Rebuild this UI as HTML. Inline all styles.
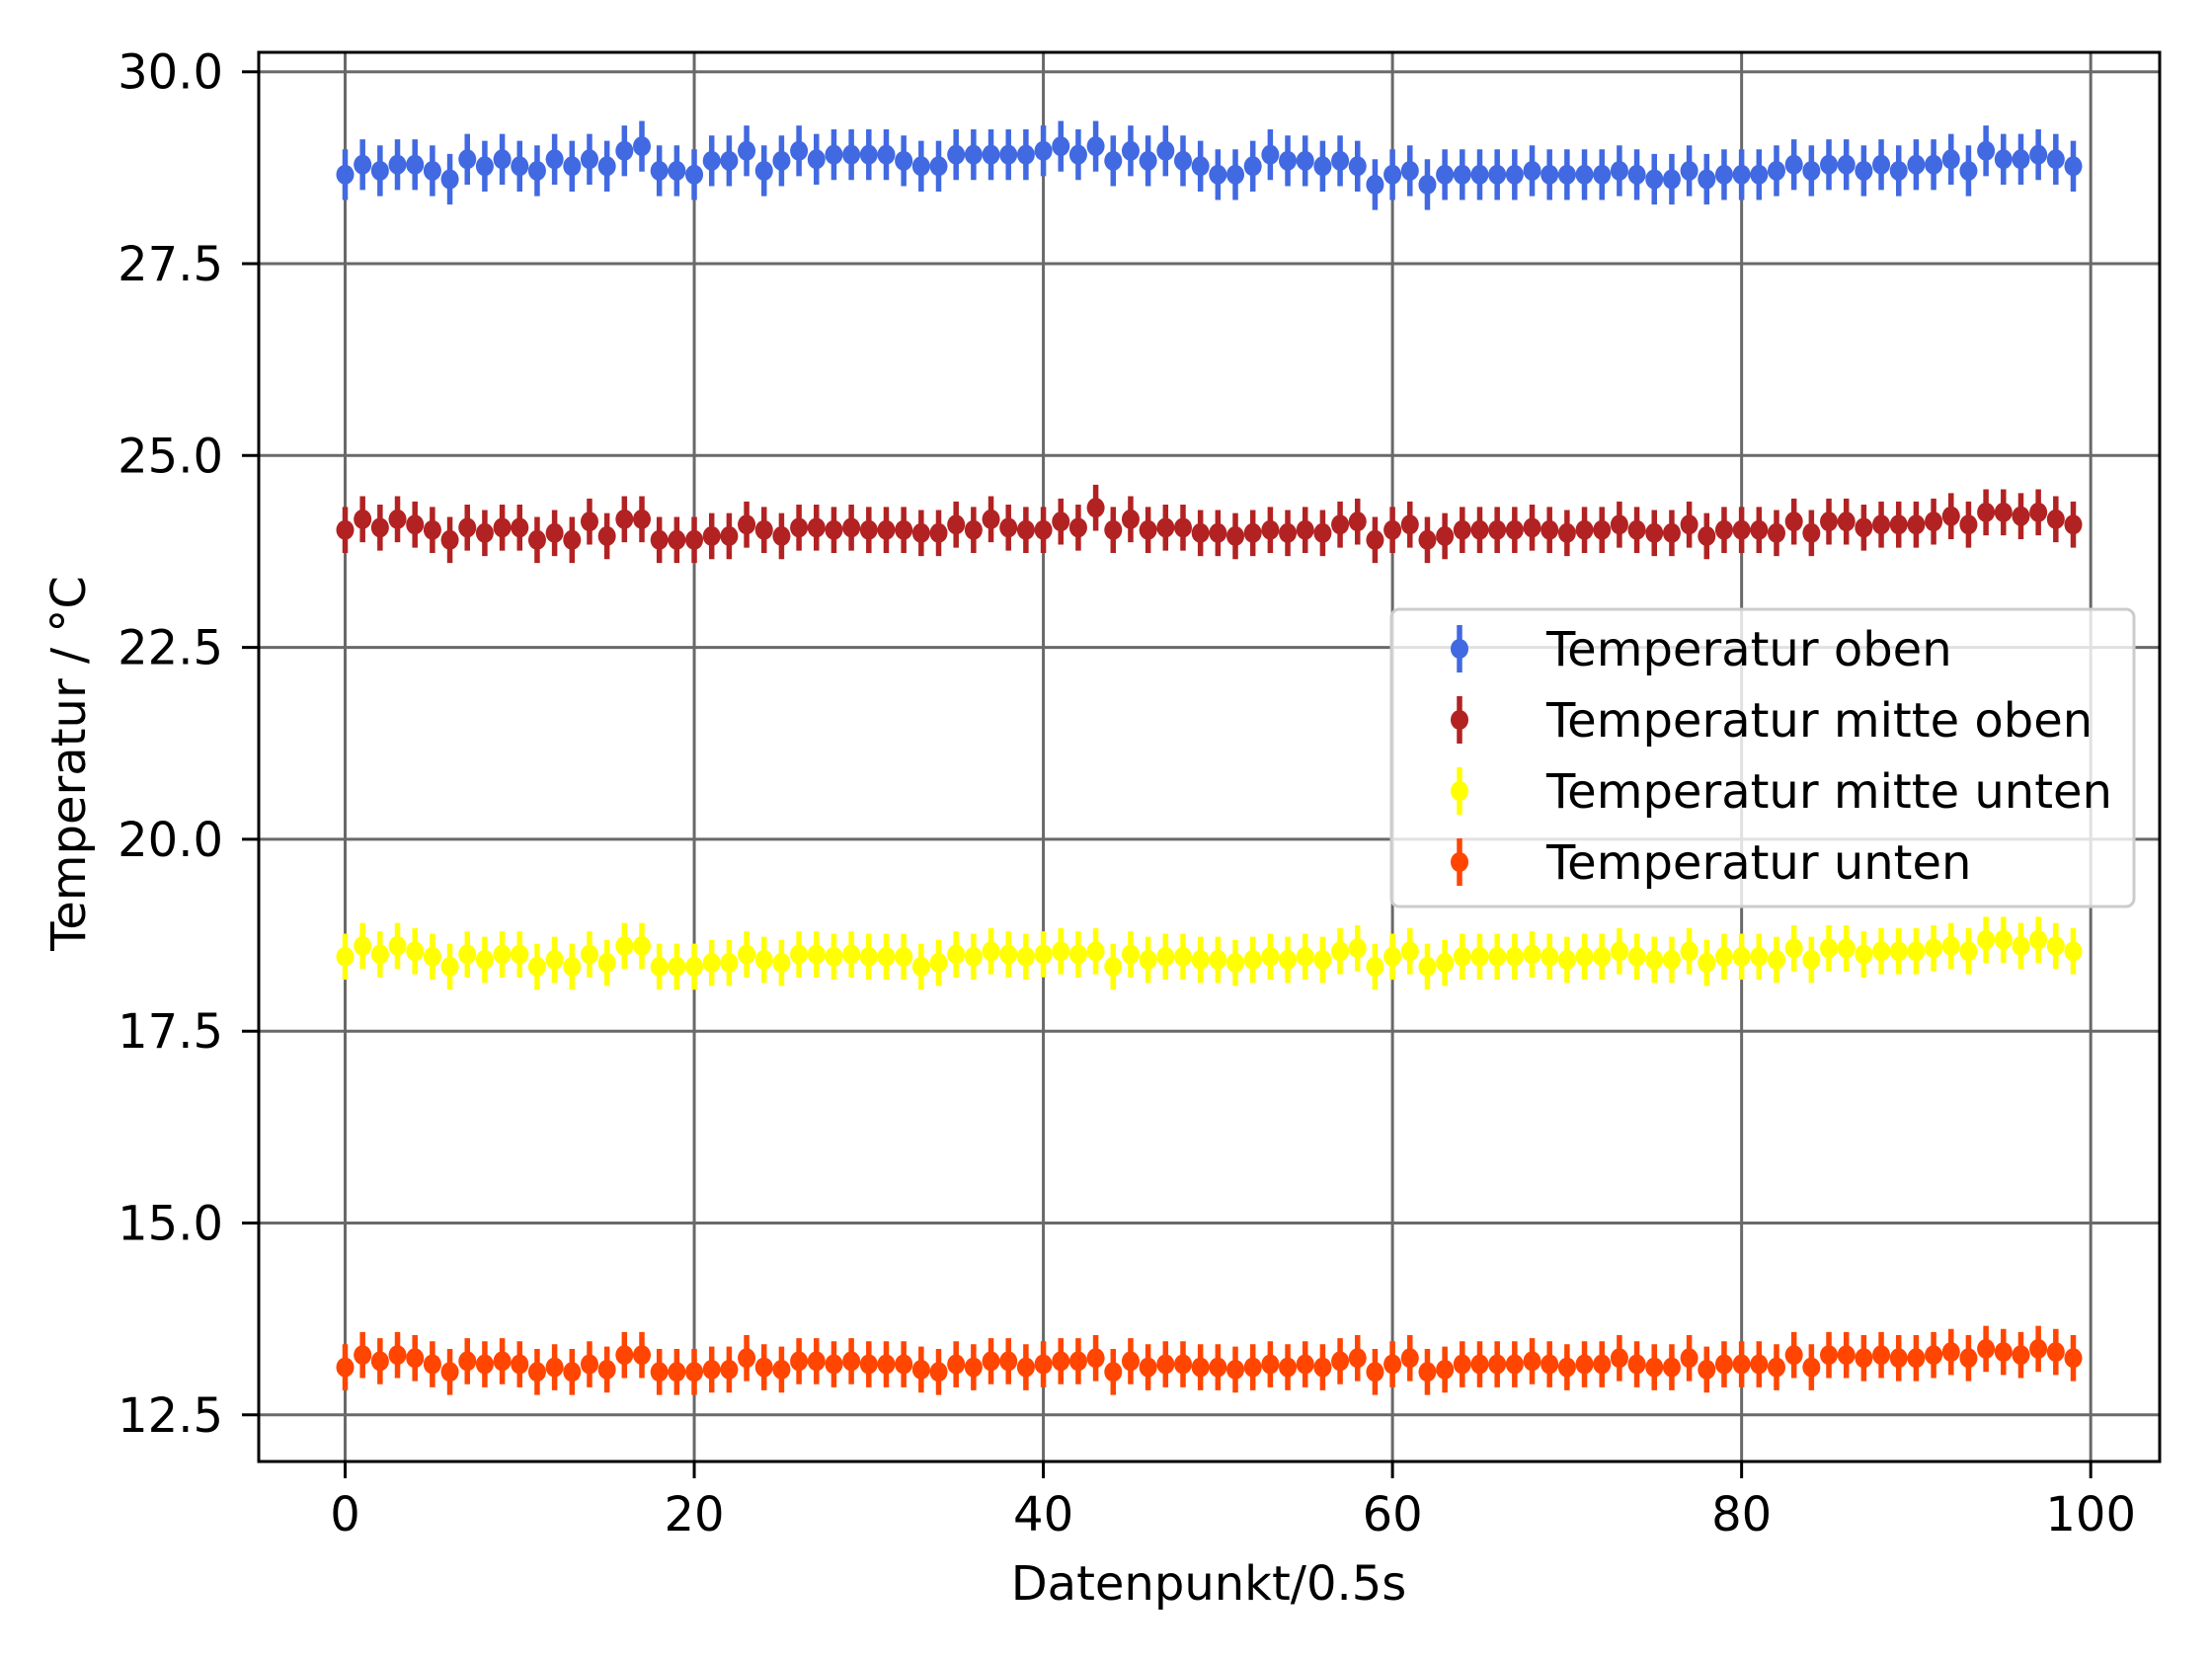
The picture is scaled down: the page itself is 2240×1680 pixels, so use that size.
<!DOCTYPE html>
<html><head><meta charset="utf-8"><style>
html,body{margin:0;padding:0;background:#fff}
svg{display:block;font-family:"DejaVu Sans","Liberation Sans",sans-serif}
</style></head><body>
<svg id="chart" width="2240" height="1680" viewBox="0 0 2240 1680">
<rect x="0" y="0" width="2240" height="1680" fill="#fff"/>
<g id="grid"></g>
<g id="series"></g>
<rect x="262" y="53" width="1925" height="1427" fill="none" stroke="#000" stroke-width="3"/>
<g id="ticks"></g>
<text x="1224" y="1620" text-anchor="middle" font-size="48">Datenpunkt/0.5s</text>
<text x="86" y="773" text-anchor="middle" font-size="48" transform="rotate(-90 86 773)">Temperatur / °C</text>
<g id="legend"></g>
</svg>
<script>
const xTicks=[0,20,40,60,80,100];
const yTicks=[12.5,15.0,17.5,20.0,22.5,25.0,27.5,30.0];
const seriesNames=["Temperatur oben","Temperatur mitte oben","Temperatur mitte unten","Temperatur unten"];
const seriesColors=["#4169e1","#b22222","#ffff00","#ff4500"];
const oben=[28.66,28.79,28.71,28.79,28.79,28.71,28.60,28.86,28.77,28.86,28.77,28.71,28.86,28.77,28.86,28.77,28.97,29.03,28.71,28.71,28.66,28.84,28.84,28.97,28.71,28.84,28.97,28.86,28.92,28.92,28.92,28.92,28.84,28.77,28.77,28.92,28.92,28.92,28.92,28.92,28.97,29.03,28.92,29.03,28.84,28.97,28.84,28.97,28.84,28.77,28.66,28.66,28.77,28.92,28.84,28.84,28.77,28.84,28.77,28.53,28.66,28.71,28.53,28.66,28.66,28.66,28.66,28.66,28.71,28.66,28.66,28.66,28.66,28.71,28.66,28.60,28.60,28.71,28.60,28.66,28.66,28.66,28.71,28.79,28.71,28.79,28.79,28.71,28.79,28.71,28.79,28.79,28.86,28.71,28.97,28.86,28.86,28.92,28.86,28.77];
const mitteOben=[24.03,24.17,24.06,24.17,24.10,24.03,23.90,24.06,23.99,24.06,24.06,23.90,23.99,23.90,24.14,23.95,24.17,24.17,23.90,23.90,23.90,23.95,23.95,24.10,24.03,23.95,24.06,24.06,24.03,24.06,24.03,24.03,24.03,23.99,23.99,24.10,24.03,24.17,24.06,24.03,24.03,24.14,24.06,24.32,24.03,24.17,24.03,24.06,24.06,23.99,23.99,23.95,23.99,24.03,23.99,24.03,23.99,24.10,24.14,23.90,24.03,24.10,23.90,23.95,24.03,24.03,24.03,24.03,24.06,24.03,23.99,24.03,24.03,24.10,24.03,23.99,23.99,24.10,23.95,24.03,24.03,24.03,23.99,24.14,23.99,24.14,24.14,24.06,24.10,24.10,24.10,24.14,24.21,24.10,24.26,24.26,24.21,24.26,24.17,24.10];
const mitteUnten=[18.47,18.61,18.50,18.61,18.54,18.47,18.34,18.50,18.43,18.50,18.50,18.34,18.43,18.34,18.50,18.39,18.61,18.61,18.34,18.34,18.34,18.39,18.39,18.50,18.43,18.39,18.50,18.50,18.47,18.50,18.47,18.47,18.47,18.34,18.39,18.50,18.47,18.54,18.50,18.47,18.50,18.54,18.50,18.54,18.34,18.50,18.43,18.47,18.47,18.43,18.43,18.39,18.43,18.47,18.43,18.47,18.43,18.54,18.58,18.34,18.47,18.54,18.34,18.39,18.47,18.47,18.47,18.47,18.50,18.47,18.43,18.47,18.47,18.54,18.47,18.43,18.43,18.54,18.39,18.47,18.47,18.47,18.43,18.58,18.43,18.58,18.58,18.50,18.54,18.54,18.54,18.58,18.61,18.54,18.69,18.69,18.61,18.69,18.61,18.54];
const unten=[13.12,13.28,13.20,13.28,13.24,13.16,13.06,13.20,13.16,13.20,13.16,13.06,13.12,13.06,13.16,13.09,13.28,13.28,13.06,13.06,13.06,13.09,13.09,13.24,13.12,13.09,13.20,13.20,13.16,13.20,13.16,13.16,13.16,13.09,13.06,13.16,13.12,13.20,13.20,13.12,13.16,13.20,13.20,13.24,13.06,13.20,13.12,13.16,13.16,13.12,13.12,13.09,13.12,13.16,13.12,13.16,13.12,13.20,13.24,13.06,13.16,13.24,13.06,13.09,13.16,13.16,13.16,13.16,13.20,13.16,13.12,13.16,13.16,13.24,13.16,13.12,13.12,13.24,13.09,13.16,13.16,13.16,13.12,13.28,13.12,13.28,13.28,13.24,13.28,13.24,13.24,13.28,13.32,13.24,13.36,13.32,13.28,13.36,13.32,13.24];
const errors=[0.33,0.3,0.3,0.3];
const NS="http://www.w3.org/2000/svg";
const L=262,R=2187,T=53,B=1480;
const xMin=-4.95,xMax=103.95;
const yMin=30-(B-72.7)/77.72, yMax=30+(72.7-T)/77.72;
function sx(v){return L+(v-xMin)/(xMax-xMin)*(R-L);}
function sy(v){return B-(v-yMin)/(yMax-yMin)*(B-T);}
function mk(tag,attrs,parent){const e=document.createElementNS(NS,tag);for(const k in attrs)e.setAttribute(k,attrs[k]);parent.appendChild(e);return e;}
const grid=document.getElementById('grid'),ticks=document.getElementById('ticks');
xTicks.forEach(t=>{
  const g=mk('line',{x1:sx(t),x2:sx(t),y1:T,y2:B,stroke:'#696969','stroke-width':3},grid);
  
  
  const tk=mk('line',{x1:sx(t),x2:sx(t),y1:B,y2:B+17,stroke:'#000','stroke-width':3},ticks);
  
  
  const tl=mk('text',{x:sx(t),y:B+70,'text-anchor':'middle','font-size':48},ticks);
  tl.textContent=String(t);
  
  
});
yTicks.forEach(t=>{
  const g=mk('line',{x1:L,x2:R,y1:sy(t),y2:sy(t),stroke:'#696969','stroke-width':3},grid);
  
  
  const tk=mk('line',{x1:L-17,x2:L,y1:sy(t),y2:sy(t),stroke:'#000','stroke-width':3},ticks);
  
  
  const tl=mk('text',{x:L-36,y:sy(t)+17,'text-anchor':'end','font-size':48},ticks);
  tl.textContent=t.toFixed(1);
  
  
});
const sg=document.getElementById('series');
[oben,mitteOben,mitteUnten,unten].forEach((arr,si)=>{
  const g=mk('g',{},sg);
  
  
  arr.forEach((v,i)=>{
    const e=mk('line',{x1:sx(i),x2:sx(i),y1:sy(v-errors[si]),y2:sy(v+errors[si]),stroke:seriesColors[si],'stroke-width':5.5},g);
    
    
    const c=mk('ellipse',{cx:sx(i),cy:sy(v),rx:9,ry:10,fill:seriesColors[si]},g);
    
    
  });
});
const lg=document.getElementById('legend');
const box=mk('rect',{x:1409,y:617,width:752,height:301,rx:8,fill:'#fff','fill-opacity':0.8,stroke:'#ccc','stroke-width':3},lg);


seriesNames.forEach((n,i)=>{
  const y=657+i*72;
  const g=mk('g',{},lg);
  
  
  mk('line',{x1:1478,x2:1478,y1:y-24,y2:y+24,stroke:seriesColors[i],'stroke-width':5.5},g);
  mk('ellipse',{cx:1478,cy:y,rx:9,ry:10,fill:seriesColors[i]},g);
  const t=mk('text',{x:1566,y:y+17,'font-size':48},g);
  t.textContent=n;
});
</script>
</body></html>
